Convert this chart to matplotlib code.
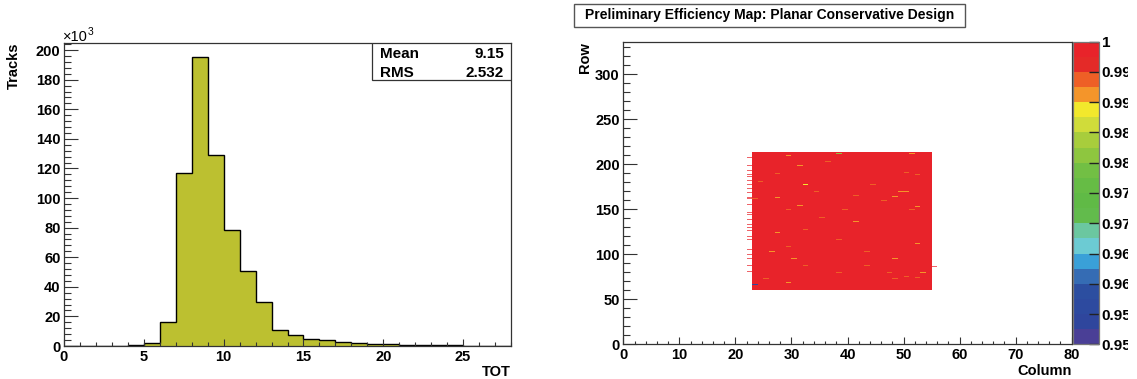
import numpy as np
import matplotlib
matplotlib.use("Agg")
import matplotlib.pyplot as plt
from matplotlib.colors import ListedColormap, BoundaryNorm
from matplotlib.patches import Rectangle
from matplotlib.ticker import MultipleLocator
from matplotlib.transforms import Bbox

plt.rcParams['font.family'] = ['Liberation Sans', 'DejaVu Sans']
plt.rcParams['font.weight'] = 'bold'

# ---- left: TOT histogram (counts in thousands) ----
tot_edges = np.arange(0, 29)
tot_counts = [0, 0, 0, 0, 0.6, 2.0, 16.5, 117, 195, 129, 78.5, 51, 29.8, 11,
              7.4, 5.0, 4.0, 3.0, 2.0, 1.6, 1.3, 1.0, 0.7, 0.5, 0.35, 0.25, 0.15, 0.1]
tot_mean = "9.15"
tot_rms = "2.532"

# ---- right: efficiency map ----
n_cols, n_rows = 80, 336
block_cols = (23, 55)      # first col, last col + 1
block_rows = (60, 213)     # first row, last row + 1
# off-nominal pixels read from the map: (col, row, efficiency)
spots = [
    (29, 209, 0.992), (31, 198, 0.992), (23, 203, 0.993), (36, 202, 0.993),
    (38, 211, 0.982), (27, 189, 0.994), (32, 177, 0.988), (24, 180, 0.994),
    (27, 163, 0.992), (23, 161, 0.993), (31, 154, 0.992), (29, 149, 0.994),
    (27, 124, 0.992), (32, 127, 0.994), (26, 103, 0.992), (30, 95, 0.992),
    (32, 87, 0.993), (25, 73, 0.993), (29, 68, 0.992), (23, 66, 0.957),
    (29, 108, 0.994), (38, 79, 0.994), (51, 211, 0.992), (44, 177, 0.993),
    (48, 164, 0.991), (49, 169, 0.992), (50, 169, 0.992), (52, 153, 0.992),
    (41, 136, 0.992), (52, 111, 0.992), (43, 103, 0.993), (43, 87, 0.993),
    (48, 95, 0.992), (47, 79, 0.993), (48, 73, 0.993), (50, 75, 0.993),
    (52, 74, 0.993), (53, 79, 0.992), (39, 149, 0.994), (38, 116, 0.994),
    (52, 188, 0.994), (50, 190, 0.994), (46, 159, 0.994), (51, 149, 0.994),
    (35, 140, 0.994), (41, 165, 0.994), (34, 169, 0.994),
]
# partially filled rows on the left edge (col 22) and right edge (col 55)
edge_left_rows = [207, 203, 198, 192, 188, 186, 181, 177, 172, 168, 163, 161,
                  155, 146, 144, 138, 133, 129, 126, 122, 119, 116, 105, 102,
                  99, 95, 92, 87, 80]
edge_right_rows = [86]

palette = ['#4a3f96', '#2f469d', '#2d4a9f', '#2c4ea0', '#356cb4', '#3aa0d8',
           '#6ccbd3', '#6bc7a0', '#62bb4c', '#60ba46', '#66bc45', '#72bf44',
           '#8ec63f', '#a8cd3c', '#d0dc3a', '#f2e82c', '#f4952a', '#ee5f26',
           '#e42a28', '#e8232a']
cb_ticks = [0.95, 0.955, 0.96, 0.965, 0.97, 0.975, 0.98, 0.985, 0.99, 0.995, 1.0]
cb_labels = ['0.95', '0.955', '0.96', '0.965', '0.97', '0.975', '0.98',
             '0.985', '0.99', '0.995', '1']

W, H = 1137, 379
fig = plt.figure(figsize=(W / 100, H / 100), dpi=100)
frame = '#333333'


def fax(l, t, r, b):
    return fig.add_axes([l / W, 1 - b / H, (r - l) / W, (b - t) / H])


def style(ax):
    for s in ax.spines.values():
        s.set_color(frame)
        s.set_linewidth(0.9)
    ax.tick_params(which='both', direction='in', top=False, right=False,
                   colors=frame, width=0.8, labelsize=10.5, labelcolor='black')


# ---------- histogram ----------
ax1 = fax(64, 42.7, 511, 346)
ax1.stairs(tot_counts, tot_edges, fill=True, color='#bcc030')
ax1.stairs(tot_counts, tot_edges, color='black', linewidth=1.0)
ax1.set_xlim(0, 28)
ax1.set_ylim(0, 205)
style(ax1)
ax1.xaxis.set_major_locator(MultipleLocator(5))
ax1.xaxis.set_minor_locator(MultipleLocator(1))
ax1.yaxis.set_major_locator(MultipleLocator(20))
ax1.yaxis.set_minor_locator(MultipleLocator(4))
ax1.tick_params(axis='y', which='major', length=10, pad=2.5)
ax1.tick_params(axis='y', which='minor', length=5)
ax1.tick_params(axis='x', which='major', length=5.4, pad=3)
ax1.tick_params(axis='x', which='minor', length=2.6)
for lbl in ax1.get_xticklabels() + ax1.get_yticklabels():
    lbl.set_fontweight('bold')
ax1.text(-0.112, 1.0, 'Tracks', rotation=90, ha='center', va='top',
         fontsize=10.5, fontweight='bold', transform=ax1.transAxes)
ax1.text(1.0, -0.085, 'TOT', ha='right', va='center', fontsize=10.5,
         fontweight='bold', transform=ax1.transAxes)
fig.text(63 / W, 1 - 41 / H, '\u00d710', fontsize=10.5, fontweight='normal',
         ha='left', va='baseline')
fig.text(88 / W, 1 - 35 / H, '3', fontsize=7.5, ha='left', va='baseline',
         fontweight='normal')

bx0 = (371.7 - 64) / 447
bh = (80 - 42.7) / 303.3
ax1.add_patch(Rectangle((bx0, 1 - bh), 1 - bx0, bh, transform=ax1.transAxes,
                        facecolor='white', edgecolor=frame, linewidth=0.9,
                        zorder=5))
for yy, name, val in [(54.3, 'Mean', tot_mean), (72.7, 'RMS', tot_rms)]:
    ty = 1 - (yy - 42.7) / 303.3
    ax1.text((380 - 64) / 447, ty, name, ha='left', va='center', fontsize=11,
             fontweight='bold', transform=ax1.transAxes, zorder=6)
    ax1.text((504 - 64) / 447, ty, val, ha='right', va='center', fontsize=11,
             fontweight='bold', transform=ax1.transAxes, zorder=6)

# ---------- efficiency map ----------
cmap = ListedColormap(palette)
norm = BoundaryNorm(np.linspace(0.95, 1.0, 21), cmap.N)

eff = np.full((n_rows, n_cols), np.nan)
eff[block_rows[0]:block_rows[1], block_cols[0]:block_cols[1]] = 1.0
for c, r, v in spots:
    eff[r, c] = v
eff = np.ma.masked_invalid(eff)

edge = np.full((n_rows, n_cols), np.nan)
for r in edge_left_rows:
    edge[r, block_cols[0] - 1] = 1.0
for r in edge_right_rows:
    edge[r, block_cols[1]] = 1.0
edge = np.ma.masked_invalid(edge)

ax2 = fax(623.3, 41.7, 1071.7, 344.3)
mesh = ax2.pcolormesh(np.arange(n_cols + 1), np.arange(n_rows + 1), eff,
                      cmap=cmap, norm=norm, rasterized=True)
ax2.pcolormesh(np.arange(n_cols + 1), np.arange(n_rows + 1), edge,
               cmap=cmap, norm=norm, alpha=0.7, rasterized=True)
ax2.set_xlim(0, 80)
ax2.set_ylim(0, 336)
style(ax2)
ax2.xaxis.set_major_locator(MultipleLocator(10))
ax2.xaxis.set_minor_locator(MultipleLocator(2))
ax2.yaxis.set_major_locator(MultipleLocator(50))
ax2.yaxis.set_minor_locator(MultipleLocator(10))
ax2.tick_params(axis='y', which='major', length=10, pad=2.5)
ax2.tick_params(axis='y', which='minor', length=4.8)
ax2.tick_params(axis='x', which='major', length=5.4, pad=3)
ax2.tick_params(axis='x', which='minor', length=2.4)
for lbl in ax2.get_xticklabels() + ax2.get_yticklabels():
    lbl.set_fontweight('bold')
ax2.text((585 - 623.3) / 448.4, 1.0, 'Row', rotation=90, ha='center',
         va='top', fontsize=10.5, fontweight='bold', transform=ax2.transAxes)
ax2.text(1.0, -0.087, 'Column', ha='right', va='center', fontsize=10.5,
         fontweight='bold', transform=ax2.transAxes)

cax = fax(1073.3, 41.7, 1099, 344.3)
cb = fig.colorbar(mesh, cax=cax, ticks=cb_ticks)
cb.set_ticklabels(cb_labels)
cb.outline.set_edgecolor('#777777')
cb.outline.set_linewidth(0.9)
cax.tick_params(direction='in', length=7, width=1, colors='#222222',
                labelcolor='black', labelsize=11, pad=2)
cax.minorticks_off()

# title pave
fig.patches.append(Rectangle((574 / W, 1 - 27 / H), (965 - 574) / W, 23 / H,
                             transform=fig.transFigure, facecolor='white',
                             edgecolor='#555555', linewidth=1.0))
fig.text(769.5 / W, 1 - 15.5 / H,
         'Preliminary Efficiency Map: Planar Conservative Design',
         ha='center', va='center', fontsize=10, fontweight='bold')

# the palette labels run off the edge of the original canvas
fig.canvas.draw()
clip = Bbox([[0, 0], [1128, H]])
for lbl in cax.get_yticklabels():
    lbl.set_fontweight('bold')
    lbl.set_clip_box(clip)
    lbl.set_clip_on(True)

fig.savefig('out.png', dpi=100)
